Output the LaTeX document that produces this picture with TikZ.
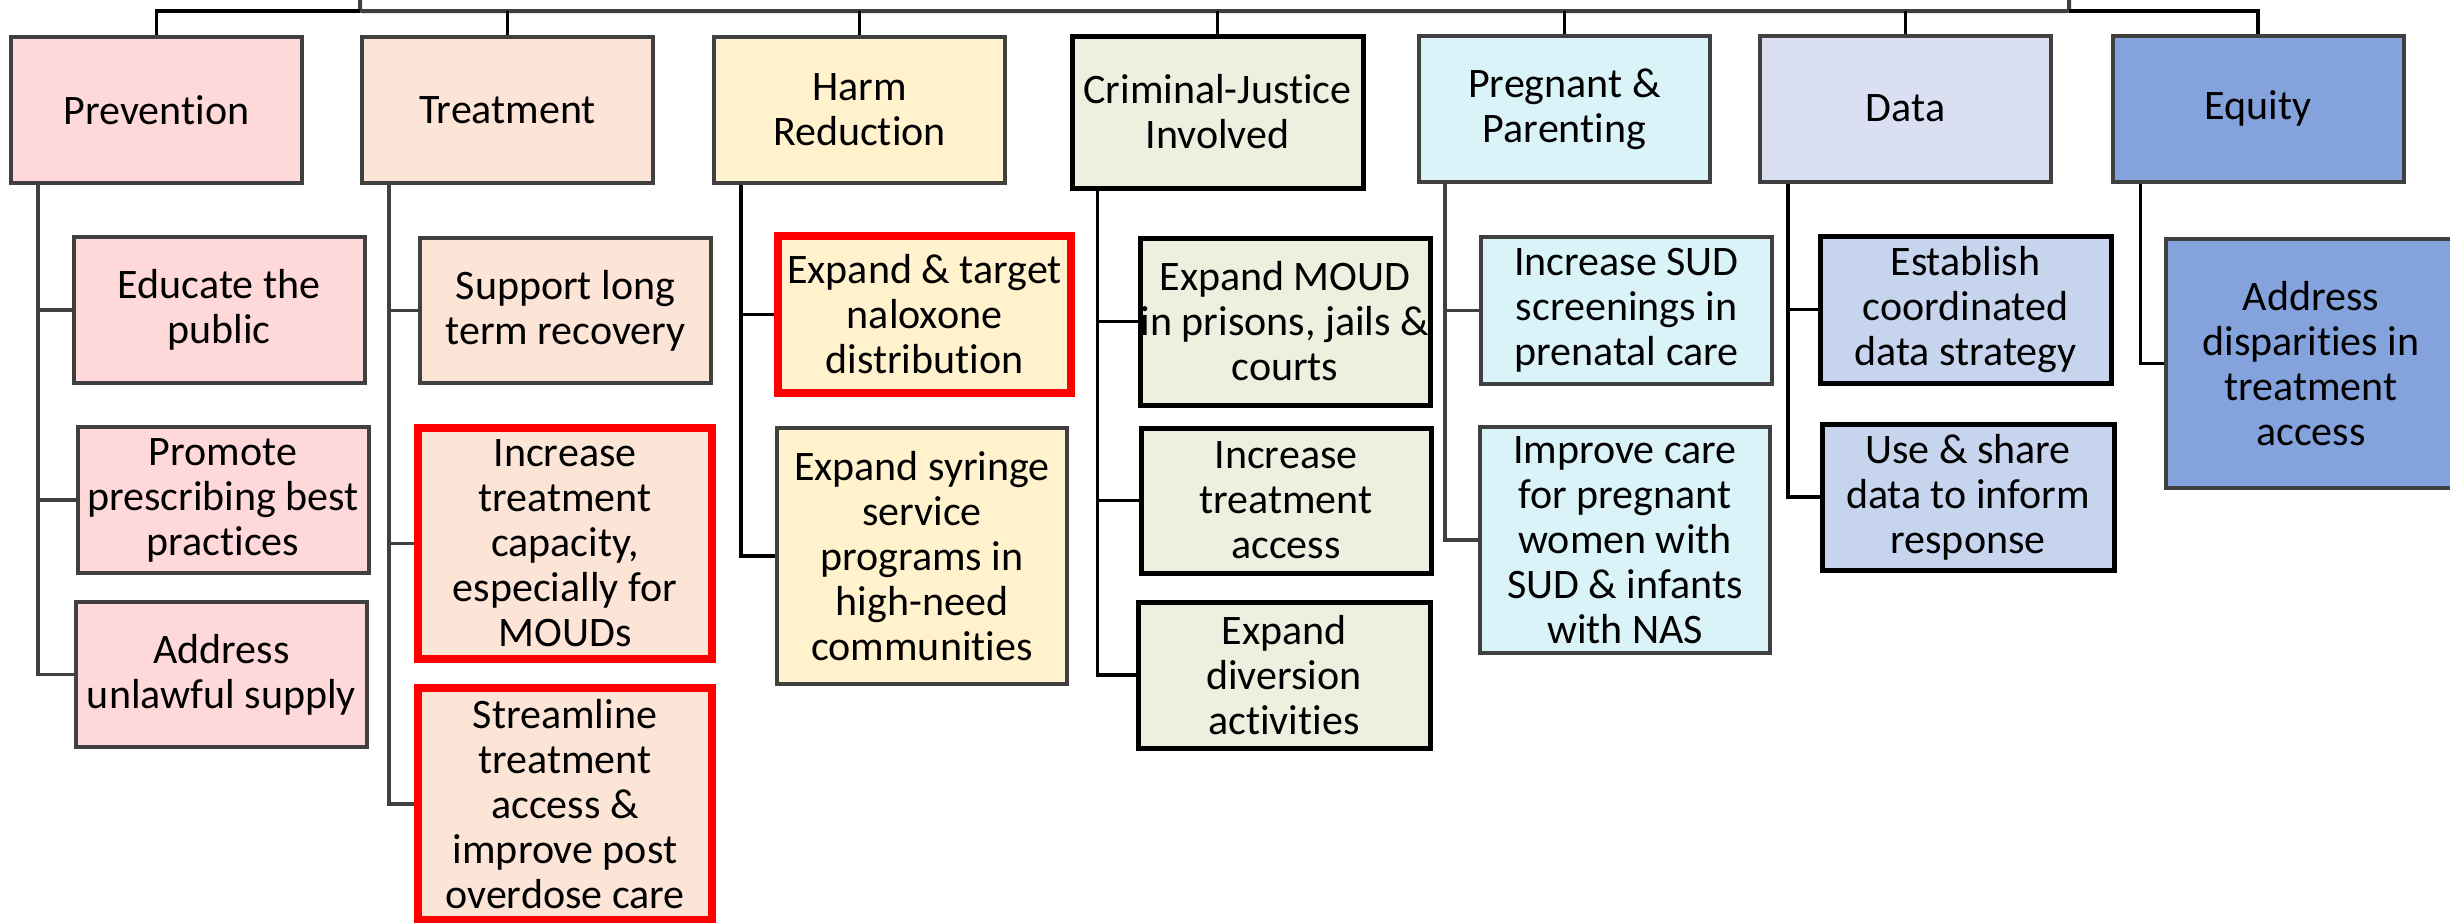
\documentclass[tikz,border=0pt]{standalone}
\usepackage{fontspec}
\setmainfont{Carlito}[Ligatures=NoCommon]
\definecolor{dgray}{HTML}{404040}
\definecolor{cprev}{HTML}{FFD9DA}
\definecolor{ctreat}{HTML}{FCE4D6}
\definecolor{charm}{HTML}{FFF2CC}
\definecolor{ccj}{HTML}{EBF1DE}
\definecolor{cpreg}{HTML}{DAF3F8}
\definecolor{cdata}{HTML}{DAE0F2}
\definecolor{cdatak}{HTML}{C6D4EE}
\definecolor{cequ}{HTML}{84A3DC}
\definecolor{cred}{HTML}{FF0000}
\begin{document}
\begin{tikzpicture}[x=1pt,y=-1pt,
  box/.style={draw=dgray, line width=4pt, align=center, inner sep=0pt,
    minimum width=291pt, minimum height=146pt,
    font=\fontsize{42pt}{45pt}\selectfont, text=black},
  blackbox/.style={box, draw=black, line width=5pt},
  redbox/.style={box, draw=cred, line width=7.5pt},
  bus/.style={draw=dgray, line width=4pt, rounded corners=2pt},
  conn/.style={draw=black, line width=3.5pt},
  trunkg/.style={draw=dgray, line width=3.5pt},
  trunkk/.style={draw=black, line width=3.5pt}]
\useasboundingbox (0,0) rectangle (2450,922);
\clip (0,0) rectangle (2450,922);
\fill[white] (0,0) rectangle (2450,922);

% top bus
\coordinate (busLtop) at (360,0);
\coordinate (busL) at (360,11);
\coordinate (busR) at (2069,11);
\coordinate (busRtop) at (2069,0);
\draw[bus] (busLtop) -- (busL) -- (busR) -- (busRtop);

% parents
\node[box, fill=cprev] (prev) at (156.5,110) {Prevention};
\node[box, fill=ctreat] (treat) at (507.5,110) {Treatment};
\node[box, fill=charm] (harm) at (859.5,110) {Harm\\Reduction};
\node[blackbox, fill=ccj, minimum height=152pt] (cj) at (1217.5,112) {Criminal-Justice\\Involved};
\node[box, fill=cpreg] (preg) at (1564.5,109) {Pregnant \&\\Parenting};
\node[box, fill=cdata] (data) at (1905.5,108.5) {Data};
\node[box, fill=cequ] (equ) at (2258,108.5) {Equity};

% bus to parents
\draw[conn] (prev.north) |- (busL);
\draw[conn] (treat.north) -- (treat.north |- busL);
\draw[conn] (harm.north) -- (harm.north |- busL);
\draw[conn] (cj.north) -- (cj.north |- busL);
\draw[conn] (preg.north) -- (preg.north |- busL);
\draw[conn] (data.north) -- (data.north |- busL);
\draw[conn] (equ.north) |- (busR);

% Prevention children
\node[box, fill=cprev] (educ) at (219,310) {Educate the\\public};
\node[box, fill=cprev] (promo) at (223,500) {Promote\\prescribing best\\practices};
\node[box, fill=cprev, minimum height=145pt] (addr) at (221.5,674.5) {Address\\unlawful supply};
% Treatment children
\node[box, fill=ctreat, minimum height=145pt] (supp) at (565.5,310.5) {Support long\\term recovery};
\node[redbox, fill=ctreat, minimum width=294pt, minimum height=231pt] (incap) at (565,543.5) {Increase\\treatment\\capacity,\\especially for\\MOUDs};
\node[redbox, fill=ctreat, minimum width=294pt, minimum height=232pt] (strm) at (565,804) {Streamline\\treatment\\access \&\\improve post\\overdose care};
% Harm reduction children
\node[redbox, fill=charm, minimum width=293pt, minimum height=157pt] (nalox) at (924.5,314.5) {Expand \& target\\naloxone\\distribution};
\node[box, fill=charm, minimum width=290pt, minimum height=256pt] (syr) at (922,556) {Expand syringe\\service\\programs in\\high-need\\communities};
% Criminal justice children
\node[blackbox, fill=ccj, minimum width=290pt, minimum height=167pt] (moud) at (1285,321.5) {Expand MOUD\\in prisons, jails \&\\courts};
\node[blackbox, fill=ccj, minimum width=290pt, minimum height=145pt] (cjacc) at (1286,500.5) {Increase\\treatment\\access};
\node[blackbox, fill=ccj, minimum width=292pt] (divr) at (1284,675) {Expand\\diversion\\activities};
% Pregnant children
\node[box, fill=cpreg, minimum height=147pt] (sud) at (1626.5,310.5) {Increase SUD\\screenings in\\prenatal care};
\node[box, fill=cpreg, minimum width=290pt, minimum height=226pt] (impr) at (1625,540) {Improve care\\for pregnant\\women with\\SUD \& infants\\with NAS};
% Data children
\node[blackbox, fill=cdatak, minimum height=147pt] (estb) at (1965.5,309.5) {Establish\\coordinated\\data strategy};
\node[blackbox, fill=cdatak, minimum width=292pt] (use) at (1968,497) {Use \& share\\data to inform\\response};
% Equity child
\node[box, fill=cequ, minimum width=290pt, minimum height=249pt] (disp) at (2311,363.5) {Address\\disparities in\\treatment\\access};

% trunks
\draw[trunkg] ([xshift=29pt]prev.south west) |- (educ.west);
\draw[trunkg] ([xshift=29pt]prev.south west) |- (promo.west);
\draw[trunkg] ([xshift=29pt]prev.south west) |- (addr.west);
\draw[trunkg] ([xshift=29pt]treat.south west) |- (supp.west);
\draw[trunkg] ([xshift=29pt]treat.south west) |- (incap.west);
\draw[trunkg] ([xshift=29pt]treat.south west) |- (strm.west);
\draw[trunkk] ([xshift=29pt]harm.south west) |- (nalox.west);
\draw[trunkk] ([xshift=29pt]harm.south west) |- (syr.west);
\draw[trunkk] ([xshift=28pt]cj.south west) |- (moud.west);
\draw[trunkk] ([xshift=28pt]cj.south west) |- (cjacc.west);
\draw[trunkk] ([xshift=28pt]cj.south west) |- (divr.west);
\draw[trunkg] ([xshift=28pt]preg.south west) |- (sud.west);
\draw[trunkg] ([xshift=28pt]preg.south west) |- (impr.west);
\draw[trunkk] ([xshift=30pt]data.south west) |- (estb.west);
\draw[trunkk] ([xshift=30pt]data.south west) |- (use.west);
\draw[trunkk] ([xshift=30pt]equ.south west) |- (disp.west);
\end{tikzpicture}
\end{document}
